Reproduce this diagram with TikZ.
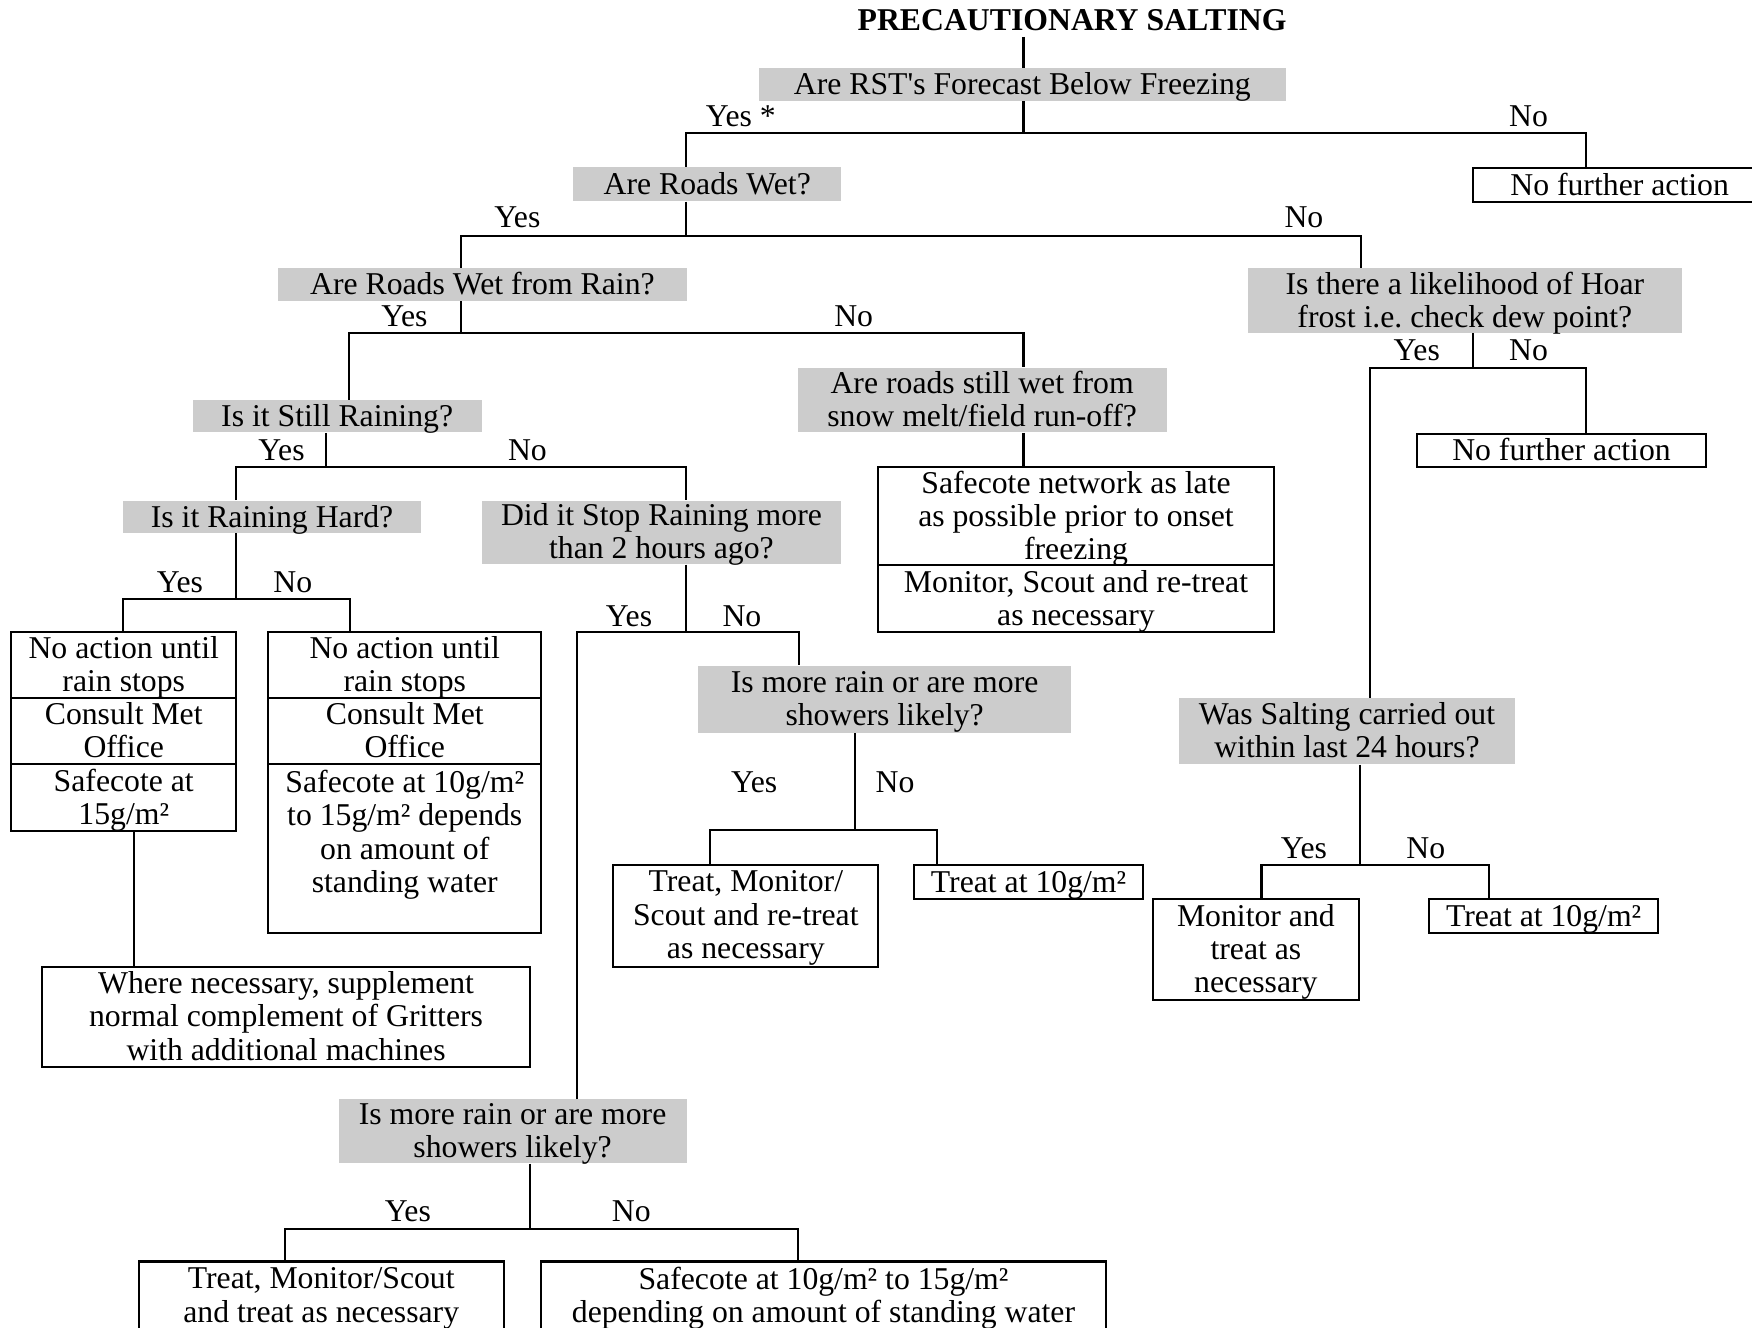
\documentclass[tikz,border=0pt]{standalone}
\usepackage{fontspec}
\setmainfont{Liberation Serif}
\definecolor{qgray}{RGB}{204,204,204}
\begin{document}
\frenchspacing
\begin{tikzpicture}[x=0.5pt,y=-0.5pt,
  every node/.style={font=\fontsize{14.2}{14.9}\selectfont, inner sep=0pt, align=center},
  strt/.style={execute at begin node=\strut, execute at end node=\strut},
  tx/.style={strt, yshift=-1.75pt},
  sz/.style 2 args={minimum width=#1*0.5pt, minimum height=#2*0.5pt},
  qbox/.style={fill=qgray},
  abox/.style={draw, line width=0.9pt},
  lbl/.style={anchor=base},
  conn/.style={line width=0.9pt, line join=miter}]
\useasboundingbox (0,0) rectangle (1568,1188);
\clip (0,0) rectangle (1568,1188);

% title
\node[font=\fontsize{14.2}{14.9}\selectfont\bfseries, anchor=base] (title) at (959.5,27.5) {PRECAUTIONARY SALTING};

% nodes
\node[qbox, sz={472}{29}, label={[tx]center:{Are RST\textquotesingle s Forecast Below Freezing}}] (rst) at (915,75.5) {};
\node[abox, sz={263}{30.5}, label={[tx]center:{No further action}}] (nfa1) at (1449.5,165.25) {};
\node[qbox, sz={240}{30.5}, label={[tx]center:{Are Roads Wet?}}] (rw) at (633,164.75) {};
\node[qbox, sz={365.5}{29}, label={[tx]center:{Are Roads Wet from Rain?}}] (rwr) at (431.75,254.5) {};
\node[qbox, sz={388}{58}, label={[tx]center:{Is there a likelihood of Hoar\\frost i.e. check dew point?}}] (hoar) at (1311,269) {};
\node[qbox, sz={258.5}{29}, label={[tx]center:{Is it Still Raining?}}] (still) at (301.75,372.5) {};
\node[qbox, sz={330}{58}, label={[tx]center:{Are roads still wet from\\snow melt/field run-off?}}] (snow) at (879,358) {};
\node[abox, sz={259}{30}, label={[tx]center:{No further action}}] (nfa2) at (1397.5,403) {};
\node[qbox, sz={267}{29}, label={[tx]center:{Is it Raining Hard?}}] (hard) at (243.5,462.5) {};
\node[qbox, sz={322}{57}, label={[tx]center:{Did it Stop Raining more\\than 2 hours ago?}}] (stop) at (592,476.5) {};
\node[abox, sz={354}{88}, label={[tx]center:{Safecote network as late\\as possible prior to onset\\freezing}}] (safe1) at (963,462) {};
\node[abox, sz={354}{60}, label={[tx]center:{Monitor, Scout and re-treat\\as necessary}}] (safe2) at (963,536) {};
\node[abox, sz={201.5}{59}, label={[tx]center:{No action until\\rain stops}}] (L1) at (110.75,595.5) {};
\node[abox, sz={201.5}{59}, label={[tx]center:{Consult Met\\Office}}] (L2) at (110.75,654.5) {};
\node[abox, sz={201.5}{60}, label={[tx]center:{Safecote at\\15g/m²}}] (L3) at (110.75,714) {};
\node[abox, sz={244.5}{59}, label={[tx]center:{No action until\\rain stops}}] (M1) at (362.25,595.5) {};
\node[abox, sz={244.5}{59}, label={[tx]center:{Consult Met\\Office}}] (M2) at (362.25,654.5) {};
\node[abox, sz={244.5}{151}] (M3) at (362.25,759.5) {};
\node[tx] (M3t) at (362.25,745) {Safecote at 10g/m²\\to 15g/m² depends\\on amount of\\standing water};
\node[qbox, sz={333.5}{60}, label={[tx]center:{Is more rain or are more\\showers likely?}}] (rain1) at (791.75,626) {};
\node[qbox, sz={301}{59}, label={[tx]center:{Was Salting carried out\\within last 24 hours?}}] (was) at (1205.5,654.5) {};
\node[abox, sz={237}{91}, label={[tx]center:{Treat, Monitor/\\Scout and re-treat\\as necessary}}] (tm1) at (667.5,819.5) {};
\node[abox, sz={205}{31}, label={[tx]center:{Treat at 10g/m²}}] (t10a) at (920.5,789.5) {};
\node[abox, sz={184}{90}, label={[tx]center:{Monitor and\\treat as\\necessary}}] (mon) at (1124,850) {};
\node[abox, sz={205}{30}, label={[tx]center:{Treat at 10g/m²}}] (t10b) at (1381.5,820) {};
\node[abox, sz={436}{90}, label={[tx]center:{Where necessary, supplement\\normal complement of Gritters\\with additional machines}}] (where) at (256,910) {};
\node[qbox, sz={311.5}{57}, label={[tx]center:{Is more rain or are more\\showers likely?}}] (rain2) at (458.75,1012.5) {};
\node[abox, sz={327}{62}, label={[tx]center:{Treat, Monitor/Scout\\and treat as necessary}}] (tm2) at (287.5,1160) {};
\node[abox, sz={506}{62}, label={[tx]center:{Safecote at 10g/m² to 15g/m²\\depending on amount of standing water}}] (sc2) at (737,1160) {};

% junction coordinates
\coordinate (t0) at (916,33);
\coordinate (a) at (916,119);   \coordinate (aL) at (614,119);   \coordinate (aR) at (1419,119);
\coordinate (b) at (614,211);   \coordinate (bL) at (412.5,211); \coordinate (bR) at (1218,211);
\coordinate (c) at (412.5,298); \coordinate (cL) at (312,298);   \coordinate (cR) at (916,298);
\coordinate (d) at (1318,329);  \coordinate (dL) at (1226,329);  \coordinate (dR) at (1419,329);
\coordinate (e) at (291.5,418); \coordinate (eL) at (211,418);   \coordinate (eR) at (614,418);
\coordinate (f) at (211,536);   \coordinate (fL) at (110,536);   \coordinate (fR) at (313.5,536);
\coordinate (g) at (614,566);   \coordinate (gL) at (516.5,566); \coordinate (gR) at (715,566);
\coordinate (h) at (765,743);   \coordinate (hL) at (635.5,743); \coordinate (hR) at (839,743);
\coordinate (i) at (1217.5,774);\coordinate (iL) at (1129,774);  \coordinate (iR) at (1333,774);
\coordinate (k) at (474,1100);  \coordinate (kL) at (255.5,1100);\coordinate (kR) at (714.5,1100);
\coordinate (lw) at (120,800);

% connectors
\draw[conn] (t0) -- (rst.north -| t0);
\draw[conn] (rst.south -| a) -- (a);
\draw[conn] (rw.north -| aL) -- (aL) -- (aR) -- (nfa1.north -| aR);
\draw[conn] (rw.south -| b) -- (b);
\draw[conn] (rwr.north -| bL) -- (bL) -- (bR) -- (hoar.north -| bR);
\draw[conn] (rwr.south -| c) -- (c);
\draw[conn] (still.north -| cL) -- (cL) -- (cR) -- (snow.north -| cR);
\draw[conn] (snow.south -| cR) -- (safe1.north -| cR);
\draw[conn] (hoar.south -| d) -- (d);
\draw[conn] (was.north -| dL) -- (dL) -- (dR) -- (nfa2.north -| dR);
\draw[conn] (still.south -| e) -- (e);
\draw[conn] (hard.north -| eL) -- (eL) -- (eR) -- (stop.north -| eR);
\draw[conn] (hard.south -| f) -- (f);
\draw[conn] (L1.north -| fL) -- (fL) -- (fR) -- (M1.north -| fR);
\draw[conn] (stop.south -| g) -- (g);
\draw[conn] (rain2.north -| gL) -- (gL) -- (gR) -- (rain1.north -| gR);
\draw[conn] (rain1.south -| h) -- (h);
\draw[conn] (tm1.north -| hL) -- (hL) -- (hR) -- (t10a.north -| hR);
\draw[conn] (was.south -| i) -- (i);
\draw[conn] (mon.north -| iL) -- (iL) -- (iR) -- (t10b.north -| iR);
\draw[conn] (L3.south -| lw) -- (where.north -| lw);
\draw[conn] (rain2.south -| k) -- (k);
\draw[conn] (tm2.north -| kL) -- (kL) -- (kR) -- (sc2.north -| kR);

% labels
\node[lbl] (y1) at (663,113.4) {Yes *};   \node[lbl] (n1) at (1368,113.4) {No};
\node[lbl] (y2) at (463,203.4) {Yes};     \node[lbl] (n2) at (1167,203.4) {No};
\node[lbl] (y3) at (362,292.4) {Yes};     \node[lbl] (n3) at (764,292.4) {No};
\node[lbl] (y4) at (1268,322.4) {Yes};    \node[lbl] (n4) at (1368,322.4) {No};
\node[lbl] (y5) at (252,412.4) {Yes};     \node[lbl] (n5) at (472,412.4) {No};
\node[lbl] (y6) at (161,530.4) {Yes};     \node[lbl] (n6) at (262,530.4) {No};
\node[lbl] (y7) at (563,560.4) {Yes};     \node[lbl] (n7) at (664,560.4) {No};
\node[lbl] (y8) at (675,709.4) {Yes};     \node[lbl] (n8) at (801,709.4) {No};
\node[lbl] (y9) at (1167,768.4) {Yes};    \node[lbl] (n9) at (1276,768.4) {No};
\node[lbl] (y10) at (365,1093.4) {Yes};   \node[lbl] (n10) at (565,1093.4) {No};
\end{tikzpicture}
\end{document}
